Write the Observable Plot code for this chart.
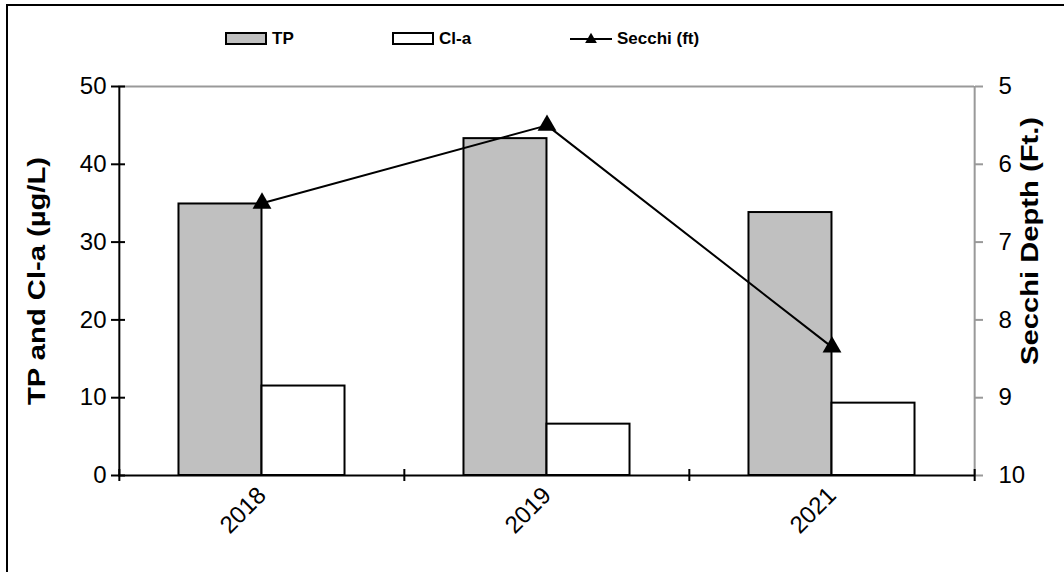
<!DOCTYPE html>
<html>
<head>
<meta charset="utf-8">
<script src="https://cdn.jsdelivr.net/npm/d3@7"></script>
<script src="https://cdn.jsdelivr.net/npm/@observablehq/plot@0.6"></script>
<style>
  body { margin: 0; background: #fff; font-family: "Liberation Sans", Arial, sans-serif; }
  #wrap { position: relative; width: 1064px; height: 572px; overflow: hidden; }
  #border { position: absolute; left: 6px; top: 4px; width: 1100px; height: 700px;
            border-top: 2px solid #000; border-left: 2px solid #000; pointer-events: none; }
  #legend { position: relative; height: 60px; }
  .li { position: absolute; top: 28px; height: 22px; display: flex; align-items: center;
        font-weight: bold; font-size: 17px; color: #000; }
  .li svg { margin-right: 3px; }
</style>
</head>
<body>
<div id="wrap">
  <div id="legend"></div>
  <div id="chart"></div>
  <div id="border"></div>
</div>
<script>
// ---- data ----
const years = ["2018", "2019", "2021"];
const tp = [34.9, 43.3, 33.8];          // µg/L
const chla = [11.5, 6.6, 9.3];          // µg/L
const secchi = [6.5, 5.5, 8.35];        // ft
const leftTicks = [0, 10, 20, 30, 40, 50];
const rightTicks = [5, 6, 7, 8, 9, 10];
const leftLabel = "TP and Cl-a (µg/L)";
const rightLabel = "Secchi Depth (Ft.)";
const seriesNames = ["TP", "Cl-a", "Secchi (ft)"];

// secchi (5..10 ft, reversed) mapped onto the primary 0..50 scale
const sToY = s => (10 - s) * 10;
const yToS = v => 10 - v / 10;

const tpRows = years.map((y, i) => ({year: y, value: tp[i]}));
const chlaRows = years.map((y, i) => ({year: y, value: chla[i]}));
const secchiRows = years.map((y, i) => ({year: y, secchi: secchi[i]}));

// ---- layout ----
const W = 1064, H = 512;
const mL = 118, mR = 90, mT = 26, mB = 97;
const step = (W - mL - mR) / years.length;
const pInner = 0.709;
const bw = step * (1 - pInner);
const font = "Liberation Sans, Arial, sans-serif";
const last = years[years.length - 1];

const plot = Plot.plot({
  width: W, height: H,
  marginLeft: mL, marginRight: mR, marginTop: mT, marginBottom: mB,
  style: {fontFamily: font, color: "#000", background: "#fff"},
  x: {domain: years, paddingInner: pInner, paddingOuter: pInner / 2, axis: null},
  y: {domain: [0, 50], axis: null},
  marks: [
    // plot-area border (top & right grey)
    Plot.ruleY([50], {stroke: "#999", strokeWidth: 2}),
    Plot.ruleX([last], {dx: step / 2, stroke: "#999", strokeWidth: 2}),
    // bars
    Plot.barY(tpRows, {x: "year", y: "value", dx: -bw / 2, fill: "#c0c0c0", stroke: "#000", strokeWidth: 2}),
    Plot.barY(chlaRows, {x: "year", y: "value", dx: bw / 2, fill: "#fff", stroke: "#000", strokeWidth: 2}),
    // axis lines
    Plot.ruleX([years[0]], {dx: -step / 2, stroke: "#000", strokeWidth: 2}),
    Plot.ruleY([0], {stroke: "#000", strokeWidth: 2}),
    // left axis
    Plot.axisY({ticks: leftTicks, tickSize: 14, dx: 7, fill: "none", label: null, stroke: "#000", strokeWidth: 2}),
    Plot.axisY({ticks: leftTicks, tickSize: 0, tickPadding: 12, fontSize: 24, fill: "#000", label: null}),
    // right axis (secchi)
    Plot.axisY({anchor: "right", ticks: rightTicks.map(sToY), tickSize: 8, fill: "none", label: null, stroke: "#999", strokeWidth: 2}),
    Plot.axisY({anchor: "right", ticks: rightTicks.map(sToY), tickFormat: v => String(yToS(v)), tickSize: 0, tickPadding: 24, fontSize: 24, fill: "#000", label: null}),
    // x axis
    Plot.axisX({ticks: years, tickSize: 12, dx: -step / 2, dy: -6, fill: "none", label: null, stroke: "#000", strokeWidth: 2}),
    Plot.axisX({ticks: [last], tickSize: 12, dx: step / 2, dy: -6, fill: "none", label: null, stroke: "#000", strokeWidth: 2}),
    Plot.axisX({ticks: years, tickSize: 0, tickPadding: 16, tickRotate: -45, fontSize: 24, fill: "#000", label: null}),
    // secchi line
    Plot.lineY(secchiRows, {x: "year", y: d => sToY(d.secchi), stroke: "#000", strokeWidth: 2}),
    Plot.dot(secchiRows, {x: "year", y: d => sToY(d.secchi), symbol: "triangle", r: 7, fill: "#000", stroke: "none"}),
    // axis titles
    Plot.text([leftLabel], {frameAnchor: "left", dx: -81, rotate: -90, textAnchor: "middle", fontSize: 24, fontWeight: "bold", fill: "#000", text: d => d, className: "ylab"}),
    Plot.text([rightLabel], {frameAnchor: "right", dx: 56, dy: -40, rotate: -90, textAnchor: "middle", fontSize: 24, fontWeight: "bold", fill: "#000", text: d => d, className: "ylab"})
  ]
});
document.getElementById("chart").appendChild(plot);
d3.select(plot).selectAll(".ylab text").attr("textLength", 248).attr("lengthAdjust", "spacingAndGlyphs");

// ---- legend ----
const legend = d3.select("#legend");
const legendX = [225, 392, 570];
seriesNames.forEach((name, i) => {
  const item = legend.append("div").attr("class", "li").style("left", legendX[i] + "px");
  const sw = item.append("svg").attr("width", 44).attr("height", 16);
  if (i < 2) {
    sw.append("rect").attr("x", 1).attr("y", 2).attr("width", 40).attr("height", 11)
      .attr("fill", i === 0 ? "#c0c0c0" : "#fff").attr("stroke", "#000").attr("stroke-width", 2);
  } else {
    sw.append("line").attr("x1", 0).attr("x2", 42).attr("y1", 8).attr("y2", 8).attr("stroke", "#000").attr("stroke-width", 2);
    sw.append("path").attr("d", d3.symbol(d3.symbolTriangle, 60)()).attr("transform", "translate(21,8.5)").attr("fill", "#000");
  }
  item.append("span").text(name);
});
</script>
</body>
</html>
